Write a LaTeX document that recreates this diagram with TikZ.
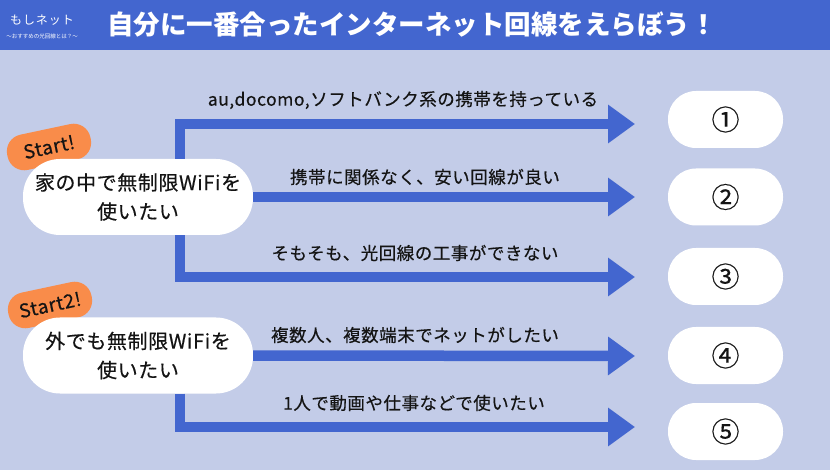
\documentclass[tikz,border=0pt]{standalone}
\usepackage{fontspec}
\setmainfont{Noto Sans CJK JP}
\newfontfamily\medfont{Noto Sans CJK JP}[FakeBold = 0.4, LetterSpace = 3]
\usepackage{tikz}
\usetikzlibrary{arrows.meta}
\definecolor{headblue}{HTML}{4366CF}
\definecolor{paleblue}{HTML}{C3CCE8}
\definecolor{tagorange}{HTML}{F98C4A}
\definecolor{ink}{HTML}{141414}
\tikzset{startbox/.style = {shape = rectangle, rounded corners = 37pt, fill = white, minimum width = 230pt, minimum height = 76pt, align = center, text = ink, font = \medfont\fontsize{20}{29}\selectfont}}
\tikzset{tag/.style = {shape = rectangle, rounded corners = 17pt, fill = tagorange, minimum width = 85pt, minimum height = 36pt, rotate = 12, text = ink, font = \medfont\fontsize{19}{20}\selectfont}}
\tikzset{result/.style = {shape = rectangle, rounded corners = 28pt, fill = white, minimum width = 115pt, minimum height = 57pt, text = ink, font = \medfont\fontsize{28}{30}\selectfont}}
\tikzset{choice/.style = {text = ink, font = \medfont\fontsize{17.5}{20}\selectfont}}
\tikzset{flow/.style = {draw = headblue, line width = 10.5pt, line join = miter, -{Triangle[length = 27pt, width = 37pt]}}}

\begin{document}
\begin{tikzpicture}[x = 1pt, y = -1pt]
	\useasboundingbox (0, 0) rectangle (830, 470);
	\fill[paleblue] (0, 0) rectangle (830, 470);
	\fill[headblue] (0, 0) rectangle (830, 50);

	\node[text = white, font = \fontsize{12}{12}\selectfont\addfontfeatures{LetterSpace = 8}] (brand) at (42, 20) {もしネット};
	\node[text = white, font = \fontsize{5.5}{6}\selectfont] (sub) at (42, 36) {〜おすすめの光回線とは？〜};
	\node[text = white, font = \bfseries\fontsize{26.5}{30}\selectfont] (title) at (412, 25) {自分に一番合ったインターネット回線をえらぼう！};

	\node[tag] (tag1) at (49, 147) {Start!};
	\node[tag] (tag2) at (50, 305) {Start2!};
	\node[startbox] (s1) at (138, 197) {家の中で無制限WiFiを\\使いたい};
	\node[startbox] (s2) at (138, 355.5) {外でも無制限WiFiを\\使いたい};

	\node[result] (r1) at (725.5, 119.5) {①};
	\node[result] (r2) at (725.5, 197) {②};
	\node[result] (r3) at (725.5, 276.5) {③};
	\node[result] (r4) at (725.5, 355.5) {④};
	\node[result] (r5) at (725.5, 431.5) {⑤};

	\coordinate (v) at (180, 0);
	\coordinate (t1) at (635, 124);
	\coordinate (t2) at (635, 197);
	\coordinate (t3) at (635, 277);
	\coordinate (t4) at (635, 356);
	\coordinate (t5) at (635, 427);

	\draw[flow] (s1.north -| v) |- (t1);
	\draw[flow] (s1.east) -- (t2);
	\draw[flow] (s1.south -| v) |- (t3);
	\draw[flow] (s2.east) -- (t4);
	\draw[flow] (s2.south -| v) |- (t5);

	\node[choice] (c1) at (403, 100) {au,docomo,ソフトバンク系の携帯を持っている};
	\node[choice] (c2) at (425, 177) {携帯に関係なく、安い回線が良い};
	\node[choice] (c3) at (415, 253) {そもそも、光回線の工事ができない};
	\node[choice] (c4) at (415, 335) {複数人、複数端末でネットがしたい};
	\node[choice] (c5) at (414, 403) {1人で動画や仕事などで使いたい};
\end{tikzpicture}
\end{document}
